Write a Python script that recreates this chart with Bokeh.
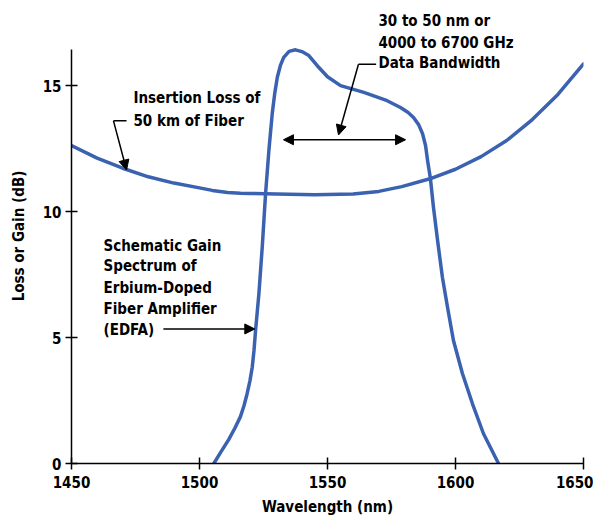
from bokeh.plotting import figure
from bokeh.models import Label, Arrow, NormalHead, Range1d, FixedTicker
from bokeh.embed import file_html
from bokeh.resources import INLINE

# Insertion loss of 50 km of fiber
loss_x = [1450, 1460, 1470, 1480, 1490, 1500, 1505, 1511, 1516, 1520, 1530, 1545,
          1560, 1570, 1579, 1590, 1600, 1610, 1620, 1630, 1640, 1650]
loss_y = [12.62, 12.12, 11.72, 11.38, 11.13, 10.94, 10.84, 10.76, 10.73, 10.72, 10.70, 10.67,
          10.70, 10.80, 10.99, 11.30, 11.68, 12.18, 12.82, 13.65, 14.65, 15.86]

# Schematic EDFA gain spectrum
gain_x = [1505.6, 1508.5, 1511.4, 1513.8, 1516.0, 1517.4, 1518.6, 1519.7, 1520.6, 1521.3,
          1521.9, 1523.2, 1524.5, 1525.8, 1527.1, 1528.4, 1529.4, 1530.4, 1531.6, 1532.9,
          1535.0, 1537.5, 1540.0, 1542.7, 1546.0, 1550.0, 1555.1, 1564.2, 1573.3, 1578.5,
          1581.5, 1583.6, 1585.6, 1587.1, 1588.3, 1589.1, 1590.2, 1591.4, 1593.0, 1594.9,
          1596.9, 1599.2, 1602.7, 1606.6, 1610.9, 1616.8]
gain_y = [0.0, 0.48, 0.95, 1.40, 1.86, 2.30, 2.77, 3.28, 3.82, 4.50,
          5.28, 6.73, 8.58, 10.70, 12.42, 13.88, 14.70, 15.33, 15.80, 16.12,
          16.36, 16.42, 16.35, 16.19, 15.79, 15.35, 15.0, 14.73, 14.40, 14.13,
          13.93, 13.73, 13.45, 13.10, 12.62, 12.02, 11.31, 10.16, 8.85, 7.38,
          6.19, 4.88, 3.57, 2.38, 1.19, 0.0]

x_ticks = [1450, 1500, 1550, 1600, 1650]
y_ticks = [0, 5, 10, 15]

FONT = "'DejaVu Sans Condensed', 'Liberation Sans', sans-serif"
FS = "15px"
BLUE = "#3b62b0"

p = figure(width=593, height=510, output_backend="svg", toolbar_location=None,
           x_range=Range1d(1450, 1650), y_range=Range1d(0, 18.06),
           min_border_left=71, min_border_top=8, min_border_right=10, min_border_bottom=47)
p.frame_width = 512
p.frame_height = 455
p.outline_line_color = None
p.xgrid.visible = False
p.ygrid.visible = False
p.background_fill_color = "white"

for ax in (p.xaxis, p.yaxis):
    ax.axis_line_color = "black"
    ax.axis_line_width = 1.5
    ax.major_tick_line_color = "black"
    ax.major_tick_line_width = 1.5
    ax.major_tick_in = 6
    ax.major_tick_out = 6
    ax.minor_tick_line_color = None
    ax.major_label_text_font = FONT
    ax.major_label_text_font_style = "bold"
    ax.major_label_text_font_size = FS
    ax.major_label_text_color = "black"
    ax.axis_label_text_font = FONT
    ax.axis_label_text_font_style = "bold"
    ax.axis_label_text_font_size = FS
    ax.axis_label_text_color = "black"

p.yaxis.bounds = (0, 16.43)
p.xaxis.ticker = FixedTicker(ticks=x_ticks)
p.yaxis.ticker = FixedTicker(ticks=y_ticks)
p.xaxis.axis_label = "Wavelength (nm)"
p.yaxis.axis_label = "Loss or Gain (dB)"
p.xaxis.major_label_standoff = 6
p.yaxis.major_label_standoff = 4
p.xaxis.axis_label_standoff = 7
p.yaxis.axis_label_standoff = 12

p.line(loss_x, loss_y, line_color=BLUE, line_width=3.5, line_join="round", line_cap="round")
p.line(gain_x, gain_y, line_color=BLUE, line_width=3.5, line_join="round", line_cap="round")

def label(x, y, t):
    p.add_layout(Label(x=x, y=y, text=t, text_font=FONT, text_font_style="bold",
                       text_font_size=FS, text_color="black",
                       text_baseline="middle", text_align="left"))

def head():
    return NormalHead(size=10, fill_color="black", line_color="black", line_width=1)

# Insertion loss annotation
label(1474.2, 14.52, "Insertion Loss of")
label(1474.2, 13.61, "50 km of Fiber")
p.line([1466.4, 1471.5], [13.6, 13.6], line_color="black", line_width=1.5)
p.add_layout(Arrow(end=head(), x_start=1466.4, y_start=13.6, x_end=1471.5, y_end=11.65,
                   line_color="black", line_width=1.5))

# Bandwidth annotation
label(1569.9, 17.58, "30 to 50 nm or")
label(1569.9, 16.71, "4000 to 6700 GHz")
label(1569.9, 15.91, "Data Bandwidth")
p.line([1562.1, 1569.0], [15.85, 15.85], line_color="black", line_width=1.5)
p.add_layout(Arrow(end=head(), x_start=1562.1, y_start=15.85, x_end=1554.3, y_end=13.04,
                   line_color="black", line_width=1.5))
p.add_layout(Arrow(start=head(), end=head(),
                   x_start=1532.8, y_start=12.85, x_end=1580.5, y_end=12.85,
                   line_color="black", line_width=1.5))

# EDFA annotation
for t, yy in zip(["Schematic Gain", "Spectrum of", "Erbium-Doped", "Fiber Amplifier", "(EDFA)"],
                 [8.65, 7.82, 6.98, 6.15, 5.28]):
    label(1462.5, yy, t)
p.add_layout(Arrow(end=head(), x_start=1485.9, y_start=5.34, x_end=1521.6, y_end=5.34,
                   line_color="black", line_width=1.5))

open("out.html", "w").write(file_html(p, INLINE))
